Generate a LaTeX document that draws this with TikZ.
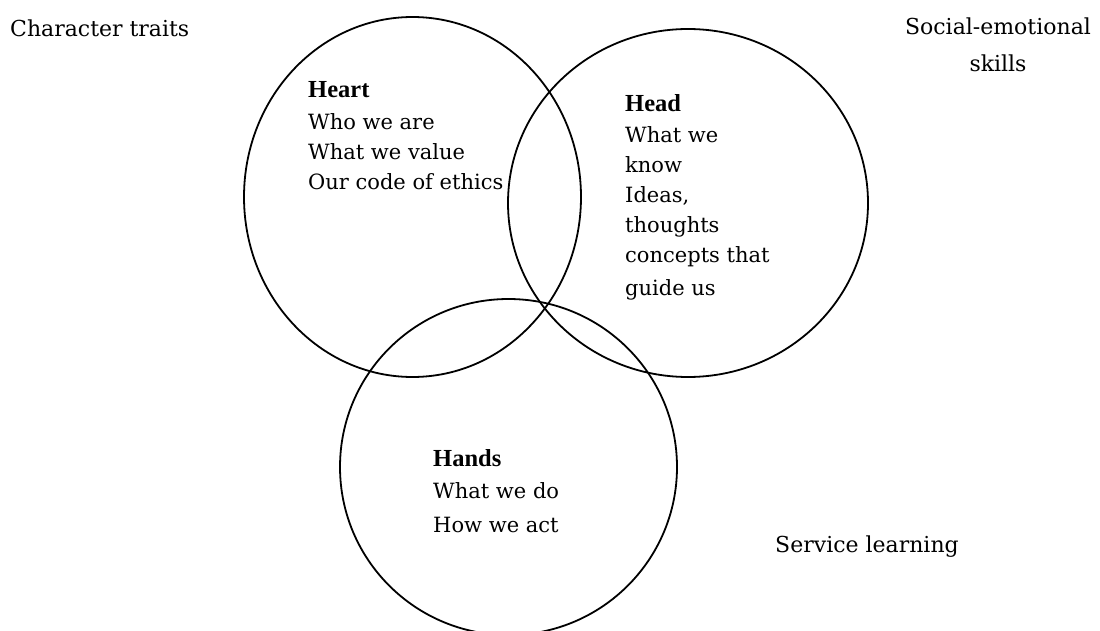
\documentclass[tikz,border=0pt]{standalone}
\usepackage{fontspec}
\setmainfont{DejaVu Serif}
\newfontfamily\boldser{Liberation Serif}[BoldFont={Liberation Serif Bold}]
\tikzset{
  ring/.style={draw=black, line width=1.8pt},
  inner/.style={anchor=base west, inner sep=0pt, font=\fontsize{21}{21}\selectfont},
  ttl/.style={anchor=base west, inner sep=0pt, font=\boldser\bfseries\fontsize{24.5}{24.5}\selectfont},
  corner/.style={inner sep=0pt, font=\fontsize{22}{22}\selectfont}
}
\begin{document}
\begin{tikzpicture}[x=1pt,y=-1pt]
\useasboundingbox (0,0) rectangle (1100,631);
\draw[ring] (412.5,197) ellipse [x radius=168.5, y radius=180];
\draw[ring] (688,203) ellipse [x radius=180, y radius=174];
\draw[ring] (508.5,467) ellipse [x radius=168.5, y radius=168];
% Heart
\node[ttl] (heartT) at (308,98) {Heart};
\node[inner] (heart1) at (308,130) {Who we are};
\node[inner] (heart2) at (308,160) {What we value};
\node[inner] (heart3) at (308,190) {Our code of ethics};
% Head
\node[ttl] (headT) at (625,112) {Head};
\node[inner] (head1) at (625,143) {What we};
\node[inner] (head2) at (625,173) {know};
\node[inner] (head3) at (625,203) {Ideas,};
\node[inner] (head4) at (625,233) {thoughts};
\node[inner] (head5) at (625,262) {concepts that};
\node[inner] (head6) at (625,295) {guide us};
% Hands
\node[ttl] (handsT) at (433,466) {Hands};
\node[inner] (hands1) at (433,498) {What we do};
\node[inner] (hands2) at (433,532) {How we act};
% corners
\node[corner, anchor=base west] (ct) at (10,37) {Character traits};
\node[corner, anchor=base] (se1) at (998,35) {Social-emotional};
\node[corner, anchor=base] (se2) at (998,72) {skills};
\node[corner, anchor=base west] (sl) at (775,552) {Service learning};
\end{tikzpicture}
\end{document}
